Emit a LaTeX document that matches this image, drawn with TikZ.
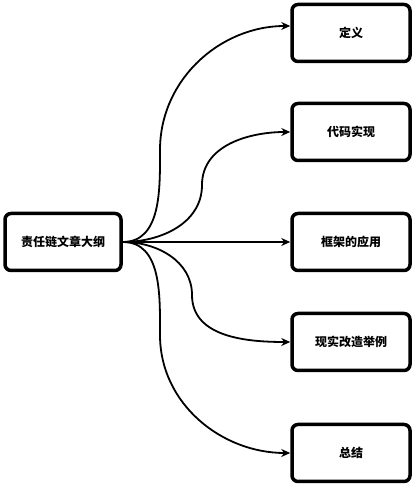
\documentclass[tikz,border=0pt]{standalone}
\usepackage{fontspec}
\newfontfamily\cjk{Noto Sans CJK SC}
\usetikzlibrary{arrows.meta}

\begin{document}
\begin{tikzpicture}[x=1pt,y=1pt,
    box/.style={draw,line width=3.5pt,rounded corners=6pt,minimum width=118pt,minimum height=57pt,
      font=\cjk\bfseries\fontsize{12}{14}\selectfont},
    link/.style={line width=1.8pt,-{Stealth[length=9pt,width=8pt]}}]
      \useasboundingbox (0,0) rectangle (414,484);
      % root on the left
      \node[box,minimum width=116pt] (outline) at (63,242) {责任链文章大纲};
      % chapters on the right
      \node[box] (define) at (351,451) {定义};
      \node[box] (code) at (351,352) {代码实现};
      \node[box] (frame) at (351,242) {框架的应用};
      \node[box] (practice) at (351,142) {现实改造举例};
      \node[box] (summary) at (351,31) {总结};
      % curved links
      \draw[link] (outline.east) to[out=0,in=-90] (160,334) to[out=90,in=180] ([yshift=7pt]define.west);
      \draw[link] (outline.east) to[out=0,in=-90] (202,299) to[out=90,in=180] (code.west);
      \draw[link] (outline.east) -- (frame.west);
      \draw[link] (outline.east) to[out=0,in=90] (192,189) to[out=-90,in=180] (practice.west);
      \draw[link] (outline.east) to[out=0,in=90] (160,149) to[out=-90,in=180] (summary.west);
\end{tikzpicture}
\end{document}
